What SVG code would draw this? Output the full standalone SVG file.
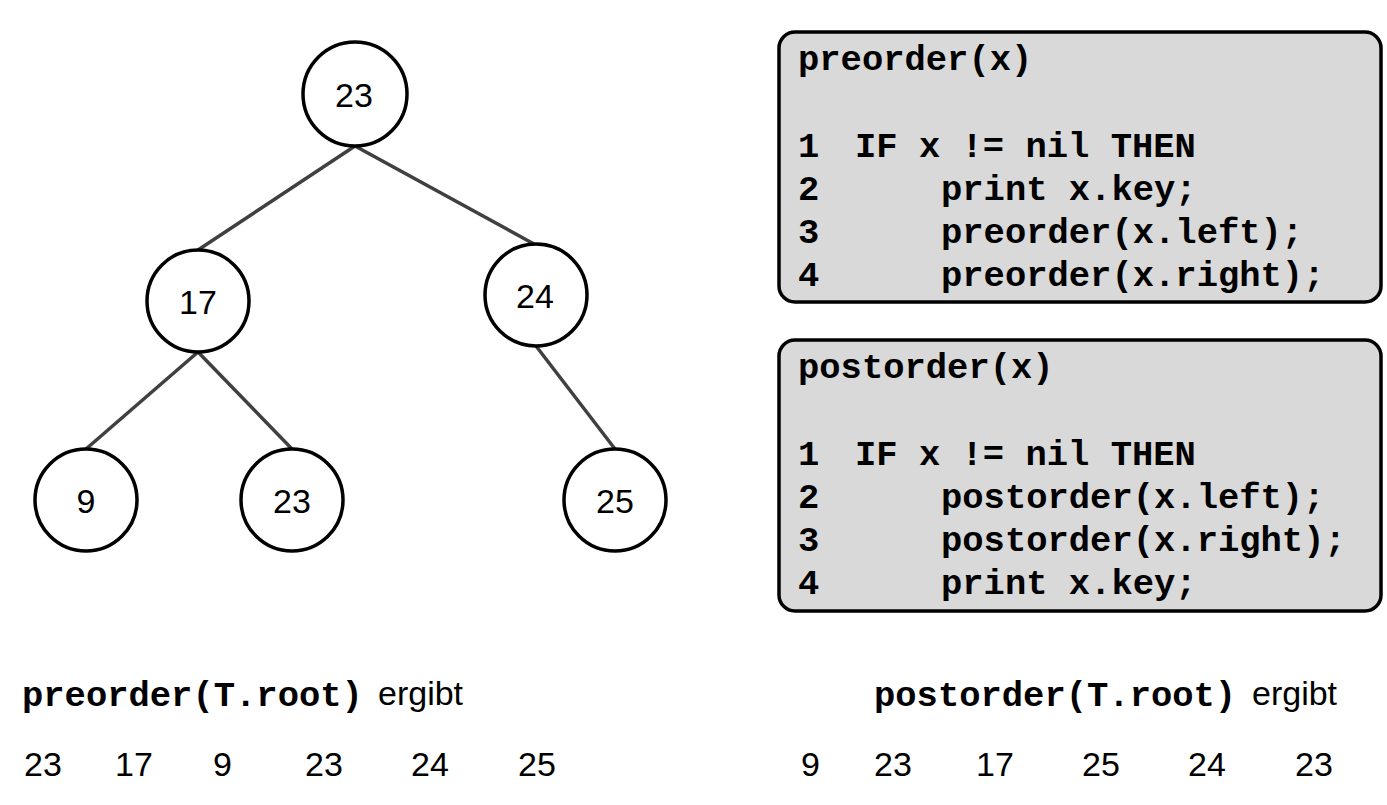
<svg xmlns="http://www.w3.org/2000/svg" width="1387" height="805" viewBox="0 0 1387 805">
<style>
.node{fill:#fff;stroke:#000;stroke-width:3.5}
.lbl{font-family:"Liberation Sans",Arial,sans-serif;font-size:34px;fill:#000;text-anchor:middle}
.edge{stroke:#404040;stroke-width:3.5;fill:none}
.box{fill:#d9d9d9;stroke:#000;stroke-width:3.5}
.code{font-family:"Liberation Mono","Courier New",monospace;font-weight:bold;font-size:35.5px;fill:#000;white-space:pre}
.txt{font-family:"Liberation Sans",Arial,sans-serif;font-size:34px;fill:#000}
</style>
<rect width="1387" height="805" fill="#fff"/>
<g id="connectors">
<line class="edge" x1="355" y1="146" x2="198" y2="250"/>
<line class="edge" x1="355" y1="146" x2="534" y2="244"/>
<line class="edge" x1="198" y1="352" x2="86" y2="449"/>
<line class="edge" x1="198" y1="352" x2="292" y2="449"/>
<line class="edge" x1="536" y1="346" x2="615" y2="449"/>
</g>
<g id="n23root"><circle class="node" cx="355" cy="94" r="52"/><text class="lbl" x="354" y="107">23</text></g>
<g id="n17"><circle class="node" cx="198" cy="301" r="51"/><text class="lbl" x="198" y="314">17</text></g>
<g id="n24"><circle class="node" cx="536" cy="295" r="51"/><text class="lbl" x="535" y="308">24</text></g>
<g id="n9"><circle class="node" cx="86" cy="500" r="51"/><text class="lbl" x="86" y="513">9</text></g>
<g id="n23leaf"><circle class="node" cx="292" cy="500" r="51"/><text class="lbl" x="292" y="513">23</text></g>
<g id="n25"><circle class="node" cx="615" cy="500" r="51"/><text class="lbl" x="615" y="513">25</text></g>
<g id="preorderBox">
<rect class="box" x="779" y="32" width="602" height="270" rx="16"/>
<text class="code" x="798" y="70">preorder(x)</text>
<text class="code" x="798" y="157">1</text><text class="code" x="855" y="157">IF x != nil THEN</text>
<text class="code" x="798" y="200">2</text><text class="code" x="941" y="200">print x.key;</text>
<text class="code" x="798" y="243">3</text><text class="code" x="941" y="243">preorder(x.left);</text>
<text class="code" x="798" y="286">4</text><text class="code" x="941" y="286">preorder(x.right);</text>
</g>
<g id="postorderBox">
<rect class="box" x="779" y="340" width="602" height="271" rx="16"/>
<text class="code" x="798" y="378">postorder(x)</text>
<text class="code" x="798" y="465">1</text><text class="code" x="855" y="465">IF x != nil THEN</text>
<text class="code" x="798" y="508">2</text><text class="code" x="941" y="508">postorder(x.left);</text>
<text class="code" x="798" y="551">3</text><text class="code" x="941" y="551">postorder(x.right);</text>
<text class="code" x="798" y="594">4</text><text class="code" x="941" y="594">print x.key;</text>
</g>
<g id="preorderResult">
<text class="code" x="22" y="706">preorder(T.root)</text>
<text class="txt" x="378" y="705">ergibt</text>
<text class="txt" x="24" y="776">23</text>
<text class="txt" x="115" y="776">17</text>
<text class="txt" x="213" y="776">9</text>
<text class="txt" x="305" y="776">23</text>
<text class="txt" x="411" y="776">24</text>
<text class="txt" x="518" y="776">25</text>
</g>
<g id="postorderResult">
<text class="code" x="874" y="706">postorder(T.root)</text>
<text class="txt" x="1252" y="705">ergibt</text>
<text class="txt" x="801" y="776">9</text>
<text class="txt" x="874" y="776">23</text>
<text class="txt" x="976" y="776">17</text>
<text class="txt" x="1082" y="776">25</text>
<text class="txt" x="1188" y="776">24</text>
<text class="txt" x="1295" y="776">23</text>
</g>
</svg>
